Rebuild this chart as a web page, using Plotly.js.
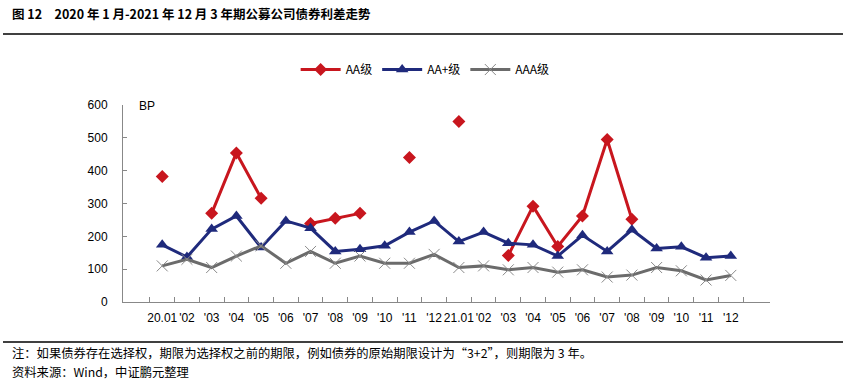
<!DOCTYPE html>
<html>
<head>
<meta charset="utf-8">
<script src="https://cdn.plot.ly/plotly-3.0.1.min.js"></script>
<style>html,body{margin:0;padding:0;background:#fff;}#chart{width:847px;height:387px;}</style>
</head>
<body>
<div id="chart"></div>
<script>
var months = ['2020-01','2020-02','2020-03','2020-04','2020-05','2020-06','2020-07','2020-08','2020-09','2020-10','2020-11','2020-12',
              '2021-01','2021-02','2021-03','2021-04','2021-05','2021-06','2021-07','2021-08','2021-09','2021-10','2021-11','2021-12'];
var tickLabels = ['20.01',"'02","'03","'04","'05","'06","'07","'08","'09","'10","'11","'12",
                  '21.01',"'02","'03","'04","'05","'06","'07","'08","'09","'10","'11","'12"];
var seriesNames = ['AA级','AA+级','AAA级'];
var aaValues = [382, null, 270, 454, 316, null, 239, 255, 270, null, 440, null,
                550, null, 142, 292, 169, 262, 495, 252, null, null, null, null];
var aaPlusValues = [174, 137, 222, 262, 166, 247, 225, 154, 161, 171, 213, 247,
                    184, 213, 179, 174, 140, 203, 154, 220, 163, 168, 135, 140];
var aaaValues = [110, 130, 105, 140, 171, 118, 154, 118, 140, 118, 118, 145,
                 105, 110, 98, 105, 91, 98, 76, 82, 105, 95, 67, 81];

var traces = [
  {x: months, y: aaValues, name: seriesNames[0], type: 'scatter', mode: 'lines+markers', connectgaps: false,
   line: {color: '#C8161E', width: 3}, marker: {symbol: 'diamond', size: 10, color: '#C8161E'}},
  {x: months, y: aaPlusValues, name: seriesNames[1], type: 'scatter', mode: 'lines+markers',
   line: {color: '#1F2A7C', width: 3}, marker: {symbol: 'triangle-up', size: 11, color: '#1F2A7C'}},
  {x: months, y: aaaValues, name: seriesNames[2], type: 'scatter', mode: 'lines+markers',
   line: {color: '#6B6B6B', width: 3}, marker: {symbol: 'x-thin-open', size: 11, color: '#8A8A8A', line: {width: 1, color: '#8A8A8A'}}}
];

var cjk = '"Noto Sans CJK SC", "Noto Sans", sans-serif';
var layout = {
  width: 847, height: 387,
  margin: {l: 123, r: 77, t: 105, b: 85},
  paper_bgcolor: '#fff', plot_bgcolor: '#fff',
  showlegend: true,
  legend: {orientation: 'h', x: 0.467, xanchor: 'center', y: 1.18, yanchor: 'middle',
           font: {family: cjk, size: 12, color: '#000'}, itemwidth: 40, tracegroupgap: 0},
  xaxis: {type: 'category', tickmode: 'array', tickvals: months, ticktext: tickLabels,
          tickson: 'boundaries', ticks: 'inside', ticklen: 5, tickcolor: '#888', tickwidth: 1,
          ticklabelstandoff: 5,
          showline: true, linecolor: '#888', linewidth: 1, showgrid: false, zeroline: false,
          tickfont: {family: 'Liberation Sans, Arial, sans-serif', size: 12, color: '#000'}, tickangle: 0},
  yaxis: {range: [0, 600], tickvals: [0,100,200,300,400,500,600], ticks: 'inside', ticklen: 4, tickcolor: '#888',
          ticklabelstandoff: 12,
          showline: true, linecolor: '#888', linewidth: 1, showgrid: false, zeroline: false,
          tickfont: {family: 'Liberation Sans, Arial, sans-serif', size: 12, color: '#000'}},
  shapes: [
    {type: 'line', xref: 'paper', yref: 'paper', x0: -0.1855, x1: 1.1128, y0: 1.3604, y1: 1.3604, line: {color: '#000', width: 1.5}},
    {type: 'line', xref: 'paper', yref: 'paper', x0: -0.1855, x1: 1.1128, y0: -0.203, y1: -0.203, line: {color: '#000', width: 1.5}}
  ],
  annotations: [
    {text: '<b>图 12　2020 年 1 月-2021 年 12 月 3 年期公募公司债券利差走势</b>', xref: 'paper', yref: 'paper', x: -0.1747, y: 1.462,
     xanchor: 'left', yanchor: 'middle', showarrow: false, font: {family: cjk, size: 12.5, color: '#000'}},
    {text: 'BP', xref: 'paper', yref: 'paper', x: 0.0216, y: 0.995, xanchor: 'left', yanchor: 'middle', showarrow: false,
     font: {family: 'Liberation Sans, Arial, sans-serif', size: 12, color: '#000'}},
    {text: '注：如果债券存在选择权，期限为选择权之前的期限，例如债券的原始期限设计为“3+2”，则期限为 3 年。', xref: 'paper', yref: 'paper',
     x: -0.1747, y: -0.2589, xanchor: 'left', yanchor: 'middle', showarrow: false, font: {family: cjk, size: 12.3, color: '#000'}},
    {text: '资料来源：Wind，中证鹏元整理', xref: 'paper', yref: 'paper',
     x: -0.1747, y: -0.3553, xanchor: 'left', yanchor: 'middle', showarrow: false, font: {family: cjk, size: 12.3, color: '#000'}}
  ]
};
Plotly.newPlot('chart', traces, layout, {staticPlot: true, displayModeBar: false});
</script>
</body>
</html>
